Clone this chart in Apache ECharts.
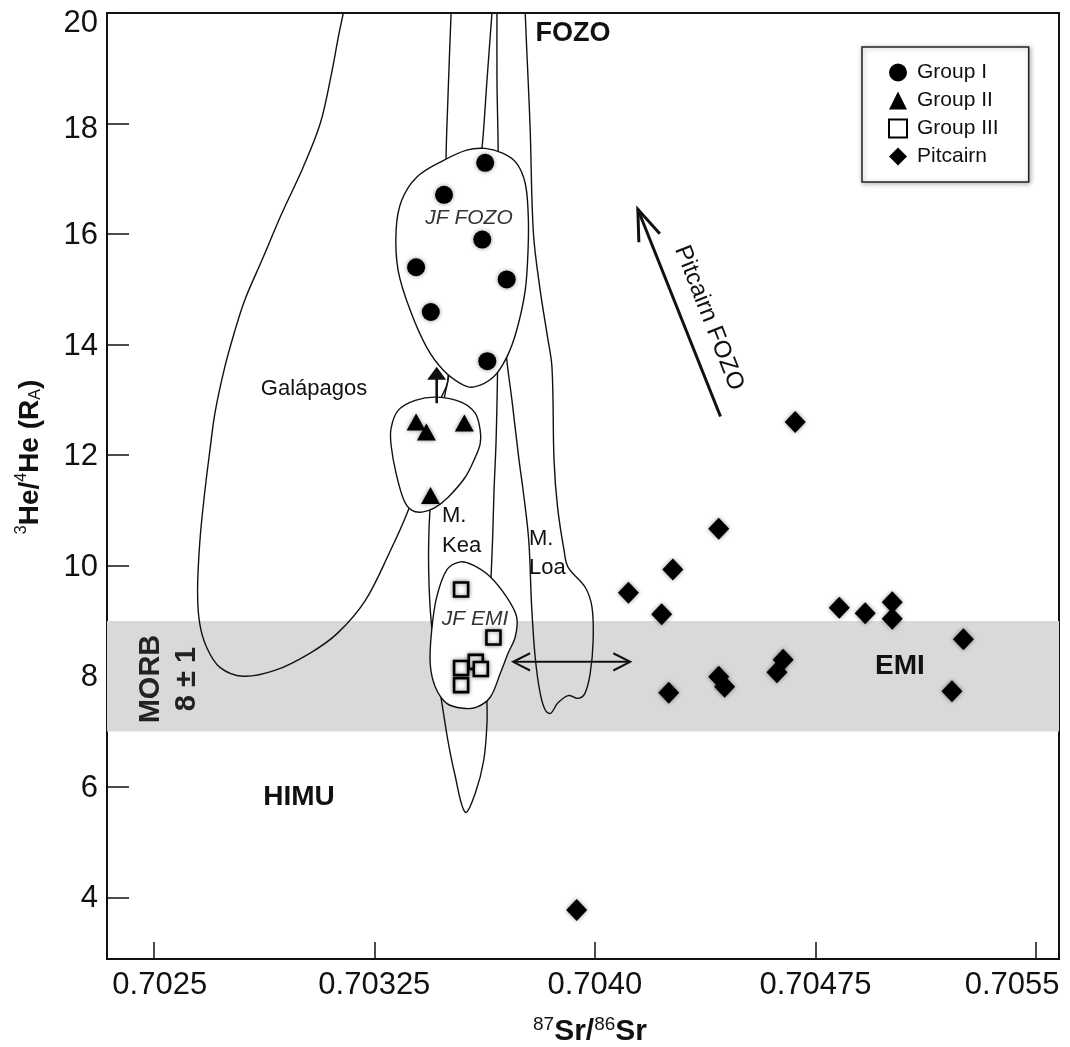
<!DOCTYPE html>
<html>
<head>
<meta charset="utf-8">
<script src="https://cdn.jsdelivr.net/npm/echarts@6/dist/echarts.min.js"></script>
<style>
  html, body { margin: 0; padding: 0; background: #fff; }
  #chart { width: 1070px; height: 1047px; }
</style>
</head>
<body>
<div id="chart"></div>
<script>
// ---- axes ----
const xRange = [0.702341, 0.705578];
const yRange = [2.884, 20];
const xTicks = [0.7025, 0.70325, 0.7040, 0.70475, 0.7055];
const xTickLabels = ['0.7025', '0.70325', '0.7040', '0.70475', '0.7055'];
const yTicks = [4, 6, 8, 10, 12, 14, 16, 18, 20];
const yTickLabels = ['4', '6', '8', '10', '12', '14', '16', '18', '20'];

// MORB 3He/4He range (8 ± 1 RA)
const morbBand = [7, 9];

// ---- samples: [87Sr/86Sr, 3He/4He] ----
const groupI = [
  [0.703627, 17.29], [0.703487, 16.71], [0.703617, 15.90], [0.703392, 15.40],
  [0.703700, 15.18], [0.703442, 14.59], [0.703634, 13.70]
];
const groupII = [
  [0.703392, 12.60], [0.703427, 12.42], [0.703556, 12.58], [0.703441, 11.27]
];
const groupIII = [
  [0.703545, 9.57], [0.703655, 8.70], [0.703545, 8.15], [0.703595, 8.26],
  [0.703612, 8.13], [0.703545, 7.84]
];
const pitcairn = [
  [0.704421, 10.67], [0.704265, 9.93], [0.704114, 9.51], [0.704227, 9.12],
  [0.704831, 9.24], [0.704919, 9.14], [0.705011, 9.34], [0.705011, 9.04],
  [0.705253, 8.67], [0.704640, 8.30], [0.704619, 8.07], [0.704421, 7.99],
  [0.704441, 7.81], [0.704251, 7.70], [0.705214, 7.73], [0.704681, 12.60],
  [0.703938, 3.77]
];

// ---- field outlines ----
const galapagos = [
  [0.703154, 20.23], [0.703130, 19.63], [0.703102, 18.84], [0.703066, 18.00],
  [0.703008, 17.21], [0.702936, 16.38], [0.702868, 15.53], [0.702809, 14.80],
  [0.702773, 14.20], [0.702739, 13.54], [0.702708, 12.76], [0.702691, 12.09],
  [0.702674, 11.36], [0.702657, 10.46], [0.702649, 9.55], [0.702656, 8.96],
  [0.702680, 8.52], [0.702725, 8.16], [0.702803, 8.00], [0.702914, 8.11],
  [0.703032, 8.42], [0.703125, 8.78], [0.703219, 9.37], [0.703300, 10.22],
  [0.703365, 11.00], [0.703423, 11.91], [0.703474, 12.99], [0.703500, 13.35],
  [0.703497, 14.80], [0.703494, 16.61], [0.703494, 17.43], [0.703500, 18.42],
  [0.703511, 20.00], [0.703514, 20.23]
];
const maunaKea = [
  [0.703654, 20.23], [0.703650, 20.00], [0.703633, 18.78], [0.703616, 17.55],
  [0.703576, 15.71], [0.703508, 13.54], [0.703500, 13.35], [0.703474, 12.63],
  [0.703440, 11.04], [0.703435, 10.46], [0.703435, 9.86], [0.703441, 9.14],
  [0.703457, 8.29], [0.703482, 7.44], [0.703500, 6.84], [0.703523, 6.24],
  [0.703559, 5.54], [0.703593, 5.88], [0.703622, 6.48], [0.703633, 7.15],
  [0.703633, 7.69], [0.703640, 8.65], [0.703646, 9.68], [0.703652, 10.46],
  [0.703657, 11.36], [0.703664, 12.27], [0.703669, 13.59], [0.703671, 15.71],
  [0.703671, 17.52], [0.703667, 18.78], [0.703667, 20.00], [0.703667, 20.23]
];
const maunaLoa = [
  [0.703763, 20.23], [0.703763, 20.00], [0.703773, 18.78], [0.703780, 17.88],
  [0.703791, 16.01], [0.703814, 14.98], [0.703837, 14.20], [0.703854, 13.59],
  [0.703861, 11.91], [0.703873, 11.06], [0.703895, 10.28], [0.703909, 9.97],
  [0.703967, 9.61], [0.703990, 9.25], [0.703994, 8.65], [0.703984, 8.05],
  [0.703966, 7.69], [0.703943, 7.60], [0.703909, 7.65], [0.703873, 7.51],
  [0.703850, 7.33], [0.703832, 7.38], [0.703814, 7.69], [0.703797, 8.34],
  [0.703785, 9.25], [0.703775, 10.46], [0.703756, 11.36], [0.703742, 11.91],
  [0.703718, 12.99], [0.703698, 13.86], [0.703691, 14.80]
];
const jfFozo = [
  [0.703627, 17.55], [0.703688, 17.46], [0.703734, 17.28], [0.703763, 16.92],
  [0.703773, 16.38], [0.703773, 15.76], [0.703763, 14.98], [0.703734, 14.26],
  [0.703700, 13.77], [0.703654, 13.41], [0.703586, 13.23], [0.703542, 13.30],
  [0.703484, 13.54], [0.703428, 13.95], [0.703372, 14.62], [0.703331, 15.34],
  [0.703324, 16.07], [0.703343, 16.61], [0.703394, 17.03], [0.703484, 17.33],
  [0.703564, 17.52]
];
const groupIIField = [
  [0.703463, 13.05], [0.703545, 12.96], [0.703593, 12.76], [0.703610, 12.45],
  [0.703610, 12.21], [0.703593, 11.96], [0.703559, 11.60], [0.703501, 11.24],
  [0.703453, 11.04], [0.703412, 10.97], [0.703378, 11.00], [0.703351, 11.18],
  [0.703324, 11.67], [0.703307, 12.18], [0.703307, 12.49], [0.703331, 12.81],
  [0.703389, 12.99]
];
const jfEmi = [
  [0.703542, 10.07], [0.703586, 10.01], [0.703644, 9.80], [0.703700, 9.43],
  [0.703734, 9.07], [0.703729, 8.71], [0.703705, 8.42], [0.703678, 8.05],
  [0.703644, 7.62], [0.703598, 7.44], [0.703552, 7.42], [0.703496, 7.51],
  [0.703457, 7.81], [0.703440, 8.23], [0.703445, 8.83], [0.703462, 9.43],
  [0.703496, 9.92]
];

// ---- arrows: [from, to] ----
const pitcairnArrow = [[0.704427, 12.70], [0.704146, 16.45]];
const mixingArrow = [[0.703722, 8.26], [0.704120, 8.26]];
const groupIIArrow = [[0.703462, 12.94], [0.703462, 13.60]];

const FONT = 'Liberation Sans, Arial, Helvetica, sans-serif';
const INK = '#111';

const chart = echarts.init(document.getElementById('chart'), null, { renderer: 'canvas' });

function outlineSeries(points, filled, z) {
  return {
    type: 'custom',
    coordinateSystem: 'cartesian2d',
    clip: true,
    silent: true,
    z: z,
    data: [points[0]],
    renderItem: function (params, api) {
      return {
        type: filled ? 'polygon' : 'polyline',
        shape: { points: points.map(p => api.coord(p)), smooth: 0.35 },
        style: { fill: filled ? '#fff' : 'none', stroke: INK, lineWidth: 1.4 }
      };
    }
  };
}

// open "V" head at tip, pointing away from `from`
function vHead(tip, from, len, ang) {
  const dx = from[0] - tip[0], dy = from[1] - tip[1];
  const L = Math.hypot(dx, dy), ux = dx / L, uy = dy / L;
  const r = a => [tip[0] + len * (ux * Math.cos(a) - uy * Math.sin(a)),
                  tip[1] + len * (ux * Math.sin(a) + uy * Math.cos(a))];
  return [r(ang), tip, r(-ang)];
}

const arrowSeries = {
  type: 'custom',
  coordinateSystem: 'cartesian2d',
  silent: true,
  z: 8,
  data: [pitcairnArrow[0]],
  renderItem: function (params, api) {
    const pa = pitcairnArrow.map(p => api.coord(p));
    const ma = mixingArrow.map(p => api.coord(p));
    const ga = groupIIArrow.map(p => api.coord(p));
    const deg = Math.PI / 180;
    // filled head for the Group II arrow
    const gTip = ga[1], headH = 13, headW = 19;
    return {
      type: 'group',
      children: [
        { type: 'line', shape: { x1: pa[0][0], y1: pa[0][1], x2: pa[1][0], y2: pa[1][1] },
          style: { stroke: INK, lineWidth: 3 } },
        { type: 'polyline', shape: { points: vHead(pa[1], pa[0], 33, 20 * deg) },
          style: { stroke: INK, lineWidth: 3, fill: 'none' } },
        { type: 'line', shape: { x1: ma[0][0], y1: ma[0][1], x2: ma[1][0], y2: ma[1][1] },
          style: { stroke: INK, lineWidth: 2 } },
        { type: 'polyline', shape: { points: vHead(ma[1], ma[0], 19, 27 * deg) },
          style: { stroke: INK, lineWidth: 2, fill: 'none' } },
        { type: 'polyline', shape: { points: vHead(ma[0], ma[1], 19, 27 * deg) },
          style: { stroke: INK, lineWidth: 2, fill: 'none' } },
        { type: 'line', shape: { x1: ga[0][0], y1: ga[0][1], x2: gTip[0], y2: gTip[1] + headH - 1 },
          style: { stroke: INK, lineWidth: 2.6 } },
        { type: 'polygon', shape: { points: [[gTip[0], gTip[1]], [gTip[0] - headW / 2, gTip[1] + headH], [gTip[0] + headW / 2, gTip[1] + headH]] },
          style: { fill: INK } }
      ]
    };
  }
};

const markerShadow = { opacity: 1, shadowBlur: 4, shadowColor: 'rgba(0,0,0,0.45)' };

function tickIndex(list, v) {
  for (let i = 0; i < list.length; i++) if (Math.abs(list[i] - v) < 1e-9) return i;
  return -1;
}

const option = {
  animation: false,
  backgroundColor: '#fff',
  textStyle: { fontFamily: FONT },
  grid: { left: 107, right: 11, top: 13, bottom: 88, show: true, borderColor: INK, borderWidth: 2, backgroundColor: 'transparent' },
  xAxis: {
    type: 'value', min: xRange[0], max: xRange[1],
    axisLine: { lineStyle: { color: INK, width: 2 } },
    axisTick: { inside: true, length: 17, customValues: xTicks, lineStyle: { color: INK, width: 1.5 } },
    axisLabel: {
      customValues: xTicks, margin: 11, color: INK, fontSize: 31, fontFamily: FONT,
      formatter: function (v) {
        const i = tickIndex(xTicks, v);
        if (i === 0) return '{first|' + xTickLabels[i] + '}';
        if (i === xTicks.length - 1) return '{last|' + xTickLabels[i] + '}';
        return '{n|' + xTickLabels[i] + '}';
      },
      rich: {
        n: { fontSize: 31, color: INK, fontFamily: FONT },
        first: { fontSize: 31, color: INK, fontFamily: FONT, padding: [0, 0, 0, 12] },
        last: { fontSize: 31, color: INK, fontFamily: FONT, padding: [0, 48, 0, 0] }
      }
    },
    splitLine: { show: false }
  },
  yAxis: {
    type: 'value', min: yRange[0], max: yRange[1],
    axisLine: { lineStyle: { color: INK, width: 2 } },
    axisTick: { inside: true, length: 22, customValues: yTicks, lineStyle: { color: INK, width: 1.5 } },
    axisLabel: {
      customValues: yTicks, margin: 9, color: INK, fontSize: 31, fontFamily: FONT,
      formatter: function (v) {
        const t = yTickLabels[tickIndex(yTicks, v)];
        if (t === '20') return '{top|' + t + '}';
        if (t === '18') return '{second|' + t + '}';
        return '{n|' + t + '}';
      },
      rich: {
        n: { fontSize: 31, color: INK, fontFamily: FONT, padding: [3, 0, 0, 0] },
        second: { fontSize: 31, color: INK, fontFamily: FONT, padding: [12, 0, 0, 0] },
        top: { fontSize: 31, color: INK, fontFamily: FONT, padding: [20, 0, 0, 0] }
      }
    },
    splitLine: { show: false }
  },
  legend: {
    data: ['Group I', 'Group II', 'Group III', 'Pitcairn'],
    orient: 'vertical', left: 862, top: 47,
    padding: [15, 30, 15, 26], itemGap: 7, itemWidth: 18, itemHeight: 18,
    backgroundColor: '#fff', borderColor: '#222', borderWidth: 1.5,
    shadowBlur: 5, shadowColor: 'rgba(0,0,0,0.3)', shadowOffsetX: 1, shadowOffsetY: 1,
    selectedMode: false,
    formatter: name => '{t|' + name + '}',
    textStyle: {
      fontSize: 21, color: INK, fontFamily: FONT,
      rich: { t: { fontSize: 21, color: INK, fontFamily: FONT, padding: [0, 0, 0, 5], lineHeight: 21 } }
    }
  },
  series: [
    {
      type: 'custom', coordinateSystem: 'cartesian2d', silent: true, z: 1, clip: true,
      data: [[xRange[0], morbBand[0]]],
      renderItem: function (params, api) {
        const a = api.coord([xRange[0], morbBand[1]]);
        const b = api.coord([xRange[1], morbBand[0]]);
        return { type: 'rect', shape: { x: a[0], y: a[1], width: b[0] - a[0], height: b[1] - a[1] }, style: { fill: '#d9d9d9' } };
      }
    },
    outlineSeries(galapagos, false, 3),
    outlineSeries(maunaKea, false, 3),
    outlineSeries(maunaLoa, false, 3),
    outlineSeries(jfFozo, true, 5),
    outlineSeries(groupIIField, true, 5),
    outlineSeries(jfEmi, true, 5),
    arrowSeries,
    { name: 'Group I', type: 'scatter', data: groupI, symbol: 'circle', symbolSize: 18, z: 10,
      itemStyle: Object.assign({ color: '#000' }, markerShadow) },
    { name: 'Group II', type: 'scatter', data: groupII, symbol: 'triangle', symbolSize: [19, 17], z: 10,
      itemStyle: Object.assign({ color: '#000' }, markerShadow) },
    { name: 'Group III', type: 'scatter', data: groupIII, symbol: 'rect', symbolSize: 14, z: 10,
      itemStyle: Object.assign({ color: '#fff', borderColor: '#000', borderWidth: 2.6 }, markerShadow) },
    { name: 'Pitcairn', type: 'scatter', data: pitcairn, symbol: 'diamond', symbolSize: [21, 22], z: 10,
      itemStyle: Object.assign({ color: '#000' }, markerShadow) }
  ],
  graphic: [
    // axis titles
    { type: 'text', x: 590, y: 1031, z: 100,
      style: { text: '{sup|87}{b|Sr/}{sup|86}{b|Sr}', align: 'center', verticalAlign: 'middle',
        rich: {
          b: { fontSize: 30, fontWeight: 'bold', fill: INK, fontFamily: FONT, lineHeight: 32, verticalAlign: 'bottom' },
          sup: { fontSize: 19, fill: INK, fontFamily: FONT, lineHeight: 19, verticalAlign: 'top' }
        } } },
    { type: 'text', x: 29, y: 457, rotation: Math.PI / 2, z: 100,
      style: { text: '{sup|3}{b|He/}{sup|4}{b|He (R}{sub|A}{b|)}', align: 'center', verticalAlign: 'middle',
        rich: {
          b: { fontSize: 28, fontWeight: 'bold', fill: INK, fontFamily: FONT, lineHeight: 30, verticalAlign: 'bottom' },
          sup: { fontSize: 16, fill: INK, fontFamily: FONT, lineHeight: 16, verticalAlign: 'top' },
          sub: { fontSize: 16, fill: INK, fontFamily: FONT, lineHeight: 16, verticalAlign: 'bottom' }
        } } },
    // end-member and field names
    { type: 'text', x: 573, y: 34, z: 100,
      style: { text: 'FOZO', fontSize: 27, fontWeight: 'bold', fill: INK, fontFamily: FONT, align: 'center', verticalAlign: 'middle' } },
    { type: 'text', x: 299, y: 797, z: 100,
      style: { text: 'HIMU', fontSize: 28, fontWeight: 'bold', fill: INK, fontFamily: FONT, align: 'center', verticalAlign: 'middle' } },
    { type: 'text', x: 900, y: 666, z: 100,
      style: { text: 'EMI', fontSize: 28, fontWeight: 'bold', fill: INK, fontFamily: FONT, align: 'center', verticalAlign: 'middle' } },
    { type: 'text', x: 314, y: 389, z: 100,
      style: { text: 'Galápagos', fontSize: 22, fill: INK, fontFamily: FONT, align: 'center', verticalAlign: 'middle' } },
    { type: 'text', x: 469, y: 218, z: 100,
      style: { text: 'JF FOZO', fontSize: 21, fontStyle: 'italic', fill: '#333', fontFamily: FONT, align: 'center', verticalAlign: 'middle' } },
    { type: 'text', x: 475, y: 619, z: 100,
      style: { text: 'JF EMI', fontSize: 21, fontStyle: 'italic', fill: '#333', fontFamily: FONT, align: 'center', verticalAlign: 'middle' } },
    { type: 'text', x: 442, y: 531, z: 100,
      style: { text: 'M.\nKea', fontSize: 22, lineHeight: 30, fill: INK, fontFamily: FONT, align: 'left', verticalAlign: 'middle' } },
    { type: 'text', x: 529, y: 553, z: 100,
      style: { text: 'M.\nLoa', fontSize: 22, lineHeight: 29, fill: INK, fontFamily: FONT, align: 'left', verticalAlign: 'middle' } },
    { type: 'text', x: 709, y: 318, rotation: -68.6 * Math.PI / 180, z: 100,
      style: { text: 'Pitcairn FOZO', fontSize: 24, fill: INK, fontFamily: FONT, align: 'center', verticalAlign: 'middle' } },
    { type: 'text', x: 169, y: 679, rotation: Math.PI / 2, z: 100,
      style: { text: 'MORB\n8 ± 1', fontSize: 29, lineHeight: 36, fontWeight: 'bold', fill: '#222', fontFamily: FONT, align: 'center', verticalAlign: 'middle' } }
  ]
};

chart.setOption(option);
</script>
</body>
</html>
